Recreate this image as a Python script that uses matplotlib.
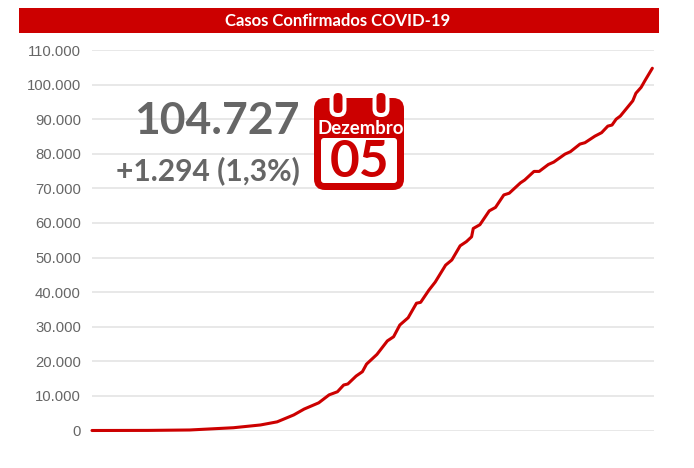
import numpy as np
from matplotlib import pyplot as plt
from matplotlib.patches import FancyBboxPatch, Rectangle

plt.rcParams['font.family'] = ['Liberation Sans', 'DejaVu Sans']

RED = '#cc0000'
GREY = '#666666'

title = 'Casos Confirmados COVID-19'
total_text = '104.727'
delta_text = '+1.294 (1,3%)'
month = 'Dezembro'
day_label = '05'

yticks = [0, 10000, 20000, 30000, 40000, 50000, 60000, 70000, 80000, 90000, 100000, 110000]
yticklabels = ['0', '10.000', '20.000', '30.000', '40.000', '50.000', '60.000', '70.000', '80.000', '90.000', '100.000', '110.000']

days = [0, 27, 47, 68, 81, 89, 97, 102, 109, 114, 118, 121, 123, 127, 130, 132, 137, 142, 145,
        148, 152, 156, 158, 162, 165, 170, 173, 177, 180, 182.5, 183.3, 186.5, 191, 194, 198,
        200.6, 206, 208, 212.5, 215, 219.4, 222, 227.4, 230, 234.6, 237, 241.8, 245, 248, 250,
        252, 254, 260, 261.5, 264, 266, 269.4]
cases = [0, 30, 150, 800, 1600, 2500, 4500, 6200, 8000, 10300, 11200, 13150, 13450, 15750, 17000,
         19200, 22000, 25900, 27100, 30500, 32600, 36800, 37050, 40600, 42900, 47800, 49300, 53400,
         54600, 56000, 58400, 59500, 63500, 64500, 68100, 68600, 71600, 72400, 74900, 74900, 76900,
         77600, 79900, 80600, 82800, 83200, 85100, 86100, 88000, 88300, 90000, 90900, 95300, 97500,
         99200, 101300, 104727]

fig = plt.figure(figsize=(6.94, 4.68), dpi=100)
ax = fig.add_axes([92/694, 1-430.5/468, (654-92)/694, 380.5/468])

ax.plot(days, cases, color=RED, lw=2.2, solid_capstyle='round', clip_on=False)
ax.set_xlim(0, 270.2)
ax.set_ylim(0, 110000)
ax.set_yticks(yticks)
ax.set_yticklabels(yticklabels, fontsize=10.7, color=GREY)
ax.set_xticks([])
ax.tick_params(axis='y', length=0, pad=8)
ax.grid(axis='y', color='#e4e4e4', lw=1.2)
ax.set_axisbelow(True)
for s in ax.spines.values():
    s.set_visible(False)

# title bar
fig.patches.append(Rectangle((19/694, 1-33/468), 640/694, 25/468, transform=fig.transFigure, fc=RED, ec='none'))
fig.text(338/694, 1-21/468, title, color='white', fontsize=12, fontweight='bold', ha='center', va='center',
         family=['Lato', 'DejaVu Sans'])

fig.text(300/694, 1-121/468, total_text, color=GREY, fontsize=32, fontweight='bold', ha='right', va='center',
         family=['Lato', 'DejaVu Sans'])
fig.text(300/694, 1-171/468, delta_text, color=GREY, fontsize=21.6, fontweight='bold', ha='right', va='center',
         family=['Lato', 'DejaVu Sans'])

# calendar icon, pixel coordinates
ic = fig.add_axes([0, 0, 1, 1], facecolor='none')
ic.set_xlim(0, 694)
ic.set_ylim(468, 0)
ic.axis('off')
ic.add_patch(FancyBboxPatch((314, 98), 90, 92, boxstyle='round,pad=0,rounding_size=11', fc=RED, ec='none'))
ic.add_patch(FancyBboxPatch((321, 138), 76, 45, boxstyle='round,pad=0,rounding_size=3', fc='white', ec='none', zorder=2))
for x in [338, 381]:
    ic.add_patch(FancyBboxPatch((x-8.5, 92), 17, 25, boxstyle='round,pad=0,rounding_size=8', fc='white', ec='none', zorder=3))
    ic.add_patch(FancyBboxPatch((x-4.5, 93), 9, 20, boxstyle='round,pad=0,rounding_size=4.4', fc=RED, ec='none', zorder=4))
ic.text(360.5, 128, month, color='white', fontsize=13.4, fontweight='bold', ha='center', va='center',
        family=['Lato', 'DejaVu Sans'], zorder=5)
ic.text(359.5, 162.5, day_label, color=RED, fontsize=37, fontweight='bold', ha='center', va='center',
        family=['Lato', 'DejaVu Sans'], zorder=5)

fig.savefig('out.png', dpi=100)
